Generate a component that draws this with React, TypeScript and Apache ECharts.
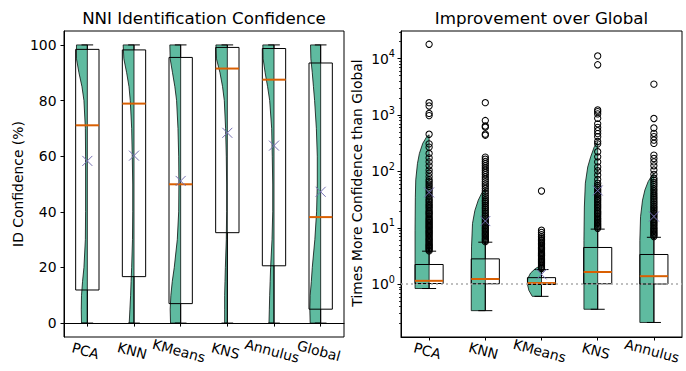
import React, { useEffect, useRef } from 'react';
import * as echarts from 'echarts';

const FONT = 'DejaVu Sans';

// ---------- Left panel: NNI Identification Confidence ----------
const leftCategories = ['PCA', 'KNN', 'KMeans', 'KNS', 'Annulus', 'Global'];
const leftMin = [0, 0, 0, 0, 0, 0];
const leftQ1 = [11.9, 16.7, 7.0, 32.5, 20.6, 5.0];
const leftMedian = [71.1, 78.9, 49.9, 91.5, 87.5, 38.1];
const leftQ3 = [98.4, 98.2, 95.5, 99.1, 98.7, 93.5];
const leftMax = [100, 100, 100, 100, 100, 100];
const leftMean = [58.3, 60.2, 51.1, 68.4, 63.8, 47.2];
const leftYTicks = [0, 20, 40, 60, 80, 100];

// violin half-width profiles (relative density, 1 = widest)
const leftViolinY = [0, 5, 10, 15, 20, 30, 40, 50, 60, 70, 80, 85, 90, 95, 100];
const leftViolinPCA = [0.5, 0.52, 0.5, 0.41, 0.29, 0.17, 0.15, 0.15, 0.15, 0.17, 0.29, 0.46, 0.72, 0.93, 0.93];
const leftViolinKNN = [0.41, 0.35, 0.29, 0.25, 0.2, 0.13, 0.11, 0.11, 0.15, 0.2, 0.32, 0.43, 0.63, 0.87, 0.93];
const leftViolinKMeans = [0.87, 0.9, 0.84, 0.72, 0.55, 0.29, 0.17, 0.15, 0.17, 0.23, 0.35, 0.5, 0.7, 0.9, 0.93];
const leftViolinKNS = [0.23, 0.23, 0.23, 0.2, 0.17, 0.09, 0.06, 0.06, 0.09, 0.15, 0.26, 0.41, 0.63, 0.93, 0.98];
const leftViolinAnnulus = [0.43, 0.4, 0.37, 0.33, 0.29, 0.17, 0.11, 0.11, 0.15, 0.2, 0.37, 0.55, 0.76, 0.93, 0.96];
const leftViolinGlobal = [0.9, 0.93, 0.9, 0.8, 0.72, 0.5, 0.35, 0.29, 0.29, 0.37, 0.52, 0.62, 0.72, 0.84, 0.87];

// ---------- Right panel: Improvement over Global ----------
const rightCategories = ['PCA', 'KNN', 'KMeans', 'KNS', 'Annulus'];
const rightLow = [0.84, 0.34, 0.61, 0.36, 0.21];
const rightQ1 = [1.03, 1.02, 0.99, 1.02, 1.01];
const rightMedian = [1.15, 1.24, 1.05, 1.65, 1.39];
const rightQ3 = [2.24, 2.82, 1.31, 4.49, 3.37];
const rightHigh = [3.86, 5.57, 1.82, 9.5, 6.8];
const rightMean = [42.5, 13.2, 1.5, 46, 15.9];
const rightMajorTicks = [1, 10, 100, 1000, 10000];
const rightMinorTicks = [
  0.2, 0.3, 0.4, 0.5, 0.6, 0.7, 0.8, 0.9,
  2, 3, 4, 5, 6, 7, 8, 9,
  20, 30, 40, 50, 60, 70, 80, 90,
  200, 300, 400, 500, 600, 700, 800, 900,
  2000, 3000, 4000, 5000, 6000, 7000, 8000, 9000,
  20000, 30000,
];

const pcaViolinY = [0.84, 2.34, 9.1, 35, 71, 138, 209, 316, 417, 447];
const pcaViolinW = [1.0, 1.0, 1.0, 0.98, 0.95, 0.83, 0.69, 0.45, 0.16, 0];
const knnViolinY = [0.34, 1.17, 4.6, 12, 20.4, 31, 41, 50];
const knnViolinW = [1.0, 1.0, 0.98, 0.91, 0.74, 0.5, 0.26, 0];
const kmeansViolinY = [0.61, 0.78, 1.0, 1.26, 1.58, 1.9, 2.19];
const kmeansViolinW = [0.66, 0.9, 1.0, 0.98, 0.78, 0.43, 0];
const knsViolinY = [0.36, 1.55, 6.0, 23.4, 62, 120, 182, 275, 339];
const knsViolinW = [0.98, 0.98, 0.98, 0.95, 0.88, 0.71, 0.5, 0.24, 0];
const annulusViolinY = [0.21, 1.55, 6.0, 15.8, 31, 47, 66, 87, 93];
const annulusViolinW = [1.0, 1.0, 1.0, 0.95, 0.81, 0.64, 0.41, 0.12, 0];

const pcaOutliers = [3.9, 4.1, 4.3, 4.5, 4.7, 4.9, 5.1, 5.4, 5.7, 6.0, 6.3, 6.6, 7.0, 7.4, 7.8, 8.2, 8.6, 9.0, 9.5, 10, 10.5, 11, 11.6, 12.2, 12.8, 13.5, 14.2, 15, 16, 17, 18, 19, 20, 21.5, 23, 24.5, 26, 28, 30, 32, 35, 38, 42, 46, 50, 55, 60, 66, 71, 81, 93, 106, 126, 148, 174, 209, 270, 309, 457, 980, 1070, 1450, 1660, 18000];
const knnOutliers = [5.7, 6.0, 6.3, 6.6, 7.0, 7.4, 7.8, 8.2, 8.7, 9.2, 9.7, 10.3, 11, 11.7, 12.4, 13.2, 14, 15, 16, 17, 18.5, 20, 21.5, 23, 25, 27, 29, 31, 34, 37, 41, 45, 50, 55, 60, 66, 73, 80, 88, 96, 105, 115, 126, 138, 150, 165, 180, 440, 460, 610, 640, 800, 1660];
const kmeansOutliers = [1.9, 2.0, 2.1, 2.2, 2.3, 2.4, 2.5, 2.6, 2.75, 2.9, 3.05, 3.2, 3.35, 3.5, 3.7, 3.9, 4.1, 4.3, 4.5, 4.75, 5.0, 5.3, 5.6, 5.9, 6.2, 6.6, 7.0, 7.6, 8.3, 9.1, 45];
const knsOutliers = [9.8, 10.3, 10.8, 11.4, 12, 12.7, 13.4, 14.2, 15, 16, 17, 18, 19, 20, 21.5, 23, 24.5, 26, 28, 30, 32, 34, 36.5, 39, 42, 45, 48, 52, 56, 62, 72, 87, 103, 120, 148, 182, 224, 309, 340, 415, 470, 527, 605, 700, 875, 1050, 1150, 1230, 7800, 11200];
const annulusOutliers = [7.0, 7.4, 7.8, 8.2, 8.7, 9.2, 9.7, 10.3, 11, 11.7, 12.4, 13.2, 14, 15, 16, 17, 18, 19.5, 21, 22.5, 24, 26, 28, 30, 32.5, 35, 38, 41, 45, 49, 54, 59, 64, 70, 76, 89, 106, 126, 148, 170, 195, 315, 360, 415, 475, 590, 870, 3540];

const VIOLIN_FILL = 'rgba(27,158,119,0.7)';
const VIOLIN_EDGE = 'rgba(0,0,0,0.75)';
const MEDIAN_COLOR = '#d95f02';
const MEAN_COLOR = '#7570b3';

function bandWidth(api: any, y: number) {
  return api.coord([1, y])[0] - api.coord([0, y])[0];
}

function violinRenderer(ys: number[][], ws: number[][]) {
  return (params: any, api: any) => {
    const i = params.dataIndex;
    const yArr = ys[i];
    const wArr = ws[i];
    const bw = bandWidth(api, yArr[0]);
    const cx = api.coord([i, yArr[0]])[0];
    const pts: number[][] = [];
    pts.push([cx, api.coord([i, yArr[0]])[1]]);
    for (let k = 0; k < yArr.length; k++) {
      const p = api.coord([i, yArr[k]]);
      pts.push([cx - wArr[k] * 0.25 * bw, p[1]]);
    }
    pts.push([cx, api.coord([i, yArr[yArr.length - 1]])[1]]);
    return {
      type: 'polygon',
      shape: { points: pts },
      style: { fill: VIOLIN_FILL, stroke: VIOLIN_EDGE, lineWidth: 1 },
    };
  };
}

function boxRenderer(lo: number[], q1: number[], med: number[], q3: number[], hi: number[]) {
  return (params: any, api: any) => {
    const i = params.dataIndex;
    const bw = bandWidth(api, med[i]);
    const cx = api.coord([i, med[i]])[0];
    const y = (v: number) => api.coord([i, v])[1];
    const half = bw * 0.25;
    const capHalf = bw * 0.125;
    const ls = { stroke: '#000', lineWidth: 1 };
    return {
      type: 'group',
      children: [
        { type: 'line', shape: { x1: cx, y1: y(q1[i]), x2: cx, y2: y(lo[i]) }, style: ls },
        { type: 'line', shape: { x1: cx, y1: y(q3[i]), x2: cx, y2: y(hi[i]) }, style: ls },
        { type: 'line', shape: { x1: cx - capHalf, y1: y(lo[i]), x2: cx + capHalf, y2: y(lo[i]) }, style: ls },
        { type: 'line', shape: { x1: cx - capHalf, y1: y(hi[i]), x2: cx + capHalf, y2: y(hi[i]) }, style: ls },
        {
          type: 'rect',
          shape: { x: cx - half, y: y(q3[i]), width: 2 * half, height: y(q1[i]) - y(q3[i]) },
          style: { fill: 'none', stroke: '#000', lineWidth: 1 },
        },
        {
          type: 'line',
          shape: { x1: cx - half, y1: y(med[i]), x2: cx + half, y2: y(med[i]) },
          style: { stroke: MEDIAN_COLOR, lineWidth: 2 },
        },
      ],
    };
  };
}

function meanRenderer(mean: number[]) {
  return (params: any, api: any) => {
    const i = params.dataIndex;
    const p = api.coord([i, mean[i]]);
    const s = 5;
    const st = { stroke: MEAN_COLOR, lineWidth: 1 };
    return {
      type: 'group',
      children: [
        { type: 'line', shape: { x1: p[0] - s, y1: p[1] - s, x2: p[0] + s, y2: p[1] + s }, style: st },
        { type: 'line', shape: { x1: p[0] - s, y1: p[1] + s, x2: p[0] + s, y2: p[1] - s }, style: st },
      ],
    };
  };
}

function buildOption() {
  const axisText = { color: '#000', fontSize: 13.9, fontFamily: FONT };
  const catAxis = (gridIndex: number, data: string[]) => ({
    type: 'category',
    gridIndex,
    data,
    boundaryGap: true,
    axisLine: { show: true, lineStyle: { color: '#000', width: 1 } },
    axisTick: { show: true, alignWithLabel: true, interval: 0, length: 3.5, lineStyle: { color: '#000', width: 1 } },
    axisLabel: { ...axisText, interval: 0, rotate: -15, align: 'center', verticalAlign: 'top', margin: 7 },
    splitLine: { show: false },
  });

  const leftViolinYs = leftCategories.map(() => leftViolinY);
  const leftViolinWs = [leftViolinPCA, leftViolinKNN, leftViolinKMeans, leftViolinKNS, leftViolinAnnulus, leftViolinGlobal];
  const rightViolinYs = [pcaViolinY, knnViolinY, kmeansViolinY, knsViolinY, annulusViolinY];
  const rightViolinWs = [pcaViolinW, knnViolinW, kmeansViolinW, knsViolinW, annulusViolinW];
  const outlierLists = [pcaOutliers, knnOutliers, kmeansOutliers, knsOutliers, annulusOutliers];
  const outlierData: number[][] = [];
  outlierLists.forEach((list, i) => list.forEach((v) => outlierData.push([i, v])));

  const leftIdx = leftCategories.map((_, i) => [i, leftMedian[i]]);
  const rightIdx = rightCategories.map((_, i) => [i, rightMedian[i]]);

  return {
    animation: false,
    backgroundColor: '#fff',
    grid: [
      { left: 64, top: 31, width: 280, height: 306, show: true, borderColor: '#000', borderWidth: 1, backgroundColor: 'transparent', containLabel: false, outerBoundsMode: 'none' },
      { left: 401, top: 31, width: 281, height: 306, show: true, borderColor: '#000', borderWidth: 1, backgroundColor: 'transparent', containLabel: false, outerBoundsMode: 'none' },
    ],
    xAxis: [catAxis(0, leftCategories), catAxis(1, rightCategories)],
    yAxis: [
      {
        type: 'value',
        gridIndex: 0,
        min: -5,
        max: 105,
        axisLine: { show: true, lineStyle: { color: '#000', width: 1 } },
        axisTick: { show: true, length: 3.5, customValues: leftYTicks, lineStyle: { color: '#000', width: 1 } },
        axisLabel: { ...axisText, margin: 7.5, customValues: leftYTicks },
        splitLine: { show: false },
      },
      {
        type: 'log',
        logBase: 10,
        gridIndex: 1,
        min: 0.116,
        max: 31000,
        axisLine: { show: true, lineStyle: { color: '#000', width: 1 } },
        axisTick: { show: true, length: 3.5, customValues: rightMajorTicks, lineStyle: { color: '#000', width: 1 } },
        axisLabel: {
          customValues: rightMajorTicks,
          margin: 6,
          formatter: (v: number) => `{b|10}{s|${Math.round(Math.log10(v))}}`,
          rich: {
            b: { fontSize: 13.9, fontFamily: FONT, color: '#000', lineHeight: 20 },
            s: { fontSize: 9.7, fontFamily: FONT, color: '#000', lineHeight: 12, verticalAlign: 'top' },
          },
        },
        splitLine: { show: false },
      },
      {
        type: 'log',
        logBase: 10,
        gridIndex: 1,
        min: 0.116,
        max: 31000,
        position: 'left',
        axisLine: { show: false },
        axisTick: { show: true, length: 2, customValues: rightMinorTicks, lineStyle: { color: '#000', width: 0.8 } },
        axisLabel: { show: false },
        splitLine: { show: false },
      },
    ],
    series: [
      {
        type: 'custom',
        name: 'leftViolins',
        xAxisIndex: 0,
        yAxisIndex: 0,
        data: leftIdx,
        renderItem: violinRenderer(leftViolinYs, leftViolinWs),
        z: 2,
      },
      {
        type: 'custom',
        name: 'leftBoxes',
        xAxisIndex: 0,
        yAxisIndex: 0,
        data: leftIdx,
        renderItem: boxRenderer(leftMin, leftQ1, leftMedian, leftQ3, leftMax),
        z: 3,
      },
      {
        type: 'custom',
        name: 'leftMeans',
        xAxisIndex: 0,
        yAxisIndex: 0,
        data: leftIdx,
        renderItem: meanRenderer(leftMean),
        z: 5,
      },
      {
        type: 'scatter',
        name: 'refLine',
        xAxisIndex: 1,
        yAxisIndex: 1,
        data: [],
        z: 1,
        markLine: {
          silent: true,
          symbol: ['none', 'none'],
          label: { show: false },
          lineStyle: { type: [2, 3], color: '#aaaaaa', width: 1.5 },
          data: [{ yAxis: 1 }],
        },
      },
      {
        type: 'custom',
        name: 'rightViolins',
        xAxisIndex: 1,
        yAxisIndex: 1,
        data: rightIdx,
        renderItem: violinRenderer(rightViolinYs, rightViolinWs),
        z: 2,
      },
      {
        type: 'custom',
        name: 'rightBoxes',
        xAxisIndex: 1,
        yAxisIndex: 1,
        data: rightIdx,
        renderItem: boxRenderer(rightLow, rightQ1, rightMedian, rightQ3, rightHigh),
        z: 3,
      },
      {
        type: 'scatter',
        name: 'outliers',
        xAxisIndex: 1,
        yAxisIndex: 1,
        data: outlierData,
        symbol: 'circle',
        symbolSize: 6.3,
        itemStyle: { color: 'rgba(0,0,0,0)', borderColor: '#000', borderWidth: 1, opacity: 1 },
        z: 4,
      },
      {
        type: 'custom',
        name: 'rightMeans',
        xAxisIndex: 1,
        yAxisIndex: 1,
        data: rightIdx,
        renderItem: meanRenderer(rightMean),
        z: 5,
      },
    ],
    graphic: [
      {
        type: 'text',
        x: 204,
        y: 18,
        style: { text: 'NNI Identification Confidence', fontSize: 16.7, fontFamily: FONT, fill: '#000', align: 'center', verticalAlign: 'middle' },
      },
      {
        type: 'text',
        x: 541.5,
        y: 18,
        style: { text: 'Improvement over Global', fontSize: 16.7, fontFamily: FONT, fill: '#000', align: 'center', verticalAlign: 'middle' },
      },
      {
        type: 'text',
        x: 18,
        y: 184,
        rotation: Math.PI / 2,
        style: { text: 'ID Confidence (%)', fontSize: 13.9, fontFamily: FONT, fill: '#000', align: 'center', verticalAlign: 'middle' },
      },
      {
        type: 'text',
        x: 357,
        y: 183,
        rotation: Math.PI / 2,
        style: { text: 'Times More Confidence than Global', fontSize: 13.9, fontFamily: FONT, fill: '#000', align: 'center', verticalAlign: 'middle' },
      },
    ],
  };
}

export default function App() {
  const ref = useRef<HTMLDivElement>(null);
  useEffect(() => {
    if (!ref.current) return;
    const chart = echarts.init(ref.current, null, { renderer: 'svg' });
    chart.setOption(buildOption() as any);
    return () => chart.dispose();
  }, []);
  return <div ref={ref} style={{ position: 'absolute', left: 0, top: 0, width: 686, height: 371 }} />;
}
